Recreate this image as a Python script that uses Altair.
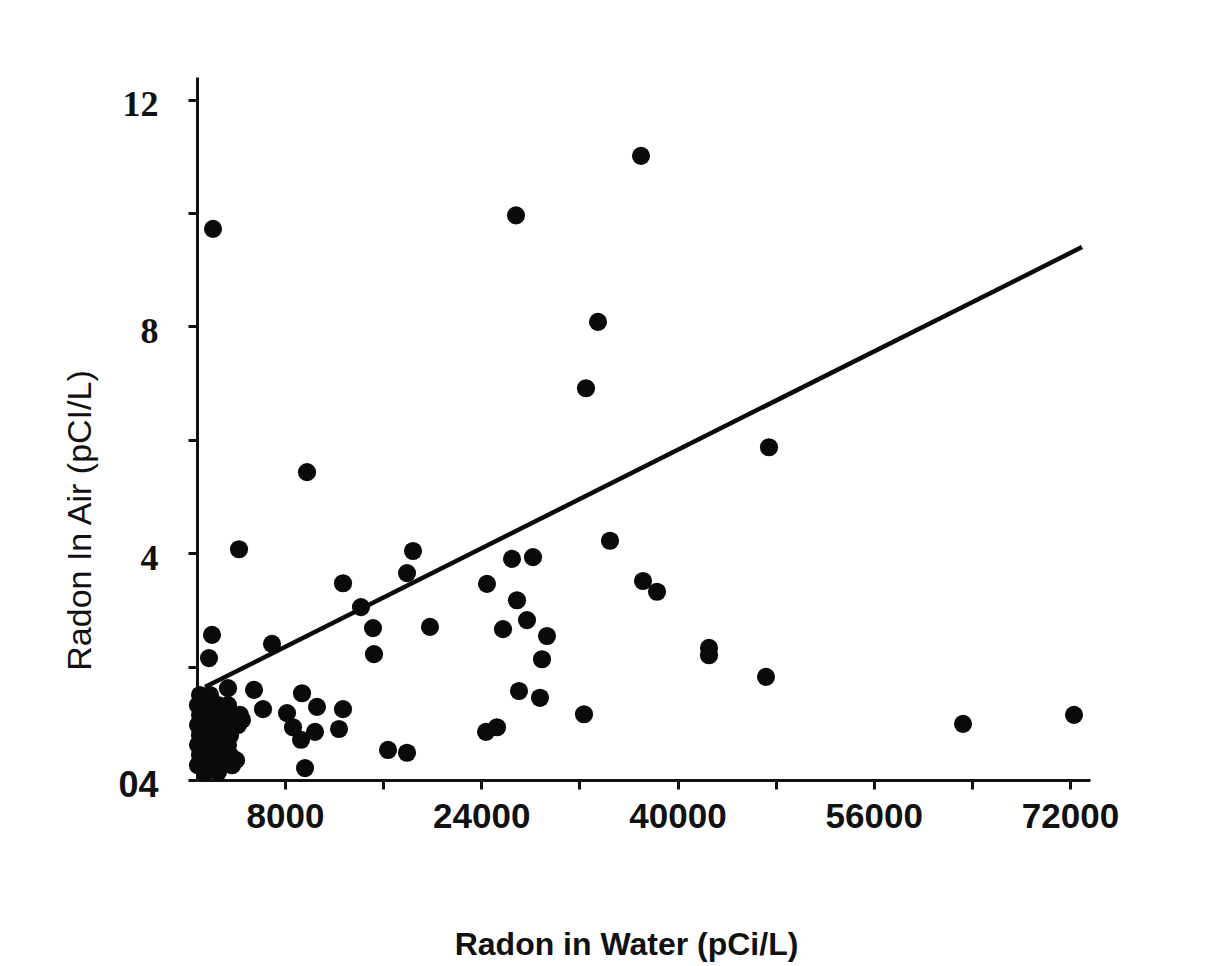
import altair as alt
import pandas as pd

# Radon in water (pCi/L) and radon in air (pCi/L)
water = [
    2128, 37023, 26832, 33517, 32539, 47459, 9792, 4248, 18434, 34495,
    12727, 14194, 15173, 15254, 17945, 19820, 24467, 26505, 28218, 26913,
    27728, 25772, 29359, 28951, 27076, 28788, 37186, 38328, 42567, 42567,
    47214, 32375, 63276, 72325, 24386, 25282, 16396, 17945, 9629, 6938,
    5471, 6204, 9384, 10607, 8161, 8650, 10444, 9303, 12727, 12401,
    2046, 1802, 3351, 4492, 4003,
    # dense cluster near the origin
    1068, 1883,
    905, 1720, 2536, 3351,
    1068, 1883, 2699, 3514, 4329,
    905, 1720, 2536, 3351, 4166,
    1068, 1883, 2699, 3514,
    905, 1720, 2536, 3351,
    1068, 1883, 2699, 3514,
    905, 1720, 2699, 3677,
    1476, 2536,
]
air = [
    9.72, 11.01, 9.96, 8.08, 6.91, 5.87, 5.43, 4.07, 4.04, 4.22,
    3.47, 3.05, 2.68, 2.22, 3.65, 2.70, 3.46, 3.90, 3.93, 3.17,
    2.82, 2.66, 2.54, 2.13, 1.57, 1.45, 3.51, 3.32, 2.33, 2.20,
    1.82, 1.16, 0.99, 1.15, 0.85, 0.93, 0.53, 0.48, 0.21, 2.40,
    1.59, 1.25, 1.53, 1.29, 1.18, 0.93, 0.85, 0.71, 1.25, 0.90,
    2.56, 2.15, 1.62, 1.06, 0.35,
    1.50, 1.50,
    1.32, 1.32, 1.32, 1.32,
    1.15, 1.15, 1.15, 1.15, 1.15,
    0.97, 0.97, 0.97, 0.97, 0.97,
    0.79, 0.79, 0.79, 0.79,
    0.62, 0.62, 0.62, 0.62,
    0.44, 0.44, 0.44, 0.44,
    0.26, 0.26, 0.26, 0.26,
    0.14, 0.14,
]

# Fitted regression line end points
fit_water = [1476, 72978]
fit_air = [1.64, 9.40]

x_ticks = [8000, 16000, 24000, 32000, 40000, 48000, 56000, 64000, 72000]
y_ticks = [0, 2, 4, 6, 8, 10, 12]

pts = pd.DataFrame({"water": water, "air": air})
fit = pd.DataFrame({"water": fit_water, "air": fit_air})

xscale = alt.Scale(domain=[823, 73630], nice=False, zero=False)
yscale = alt.Scale(domain=[0, 12.4], nice=False, zero=False)

x_axis = alt.Axis(
    values=x_ticks,
    labelExpr="datum.value % 16000 == 8000 ? datum.label : ''",
    format="d",
    grid=False,
    domainColor="#111",
    domainWidth=3,
    tickColor="#111",
    tickWidth=3,
    tickSize=9,
    labelFont="Liberation Sans",
    labelFontSize=35,
    labelFontWeight="bold",
    labelColor="#111",
    labelPadding=10,
    labelFlush=False,
    labelOverlap=False,
    title="Radon in Water (pCi/L)",
    titleFont="Liberation Sans",
    titleFontSize=32,
    titleFontWeight="bold",
    titleColor="#111",
    titleX=429,
    titleY=164,
    titleBaseline="middle",
    titleAlign="center",
)

y_axis = alt.Axis(
    values=y_ticks,
    format="d",
    labelExpr="datum.value % 4 == 0 ? (datum.value == 0 ? '04' : datum.label) : ''",
    grid=False,
    domainColor="#111",
    domainWidth=3,
    tickColor="#111",
    tickWidth=3,
    tickSize=9,
    labelFont=alt.condition("datum.value == 0", alt.value("Liberation Sans"), alt.value("Liberation Serif")),
    labelFontSize=36,
    labelFontWeight="bold",
    labelColor="#111",
    labelPadding=30,
    labelOffset=5,
    labelBaseline="middle",
    labelOverlap=False,
    title="Radon In Air (pCI/L)",
    titleFont="Liberation Sans",
    titleFontSize=34,
    titleFontWeight="normal",
    titleColor="#111",
    titleAngle=270,
    titleX=-117,
    titleY=443,
    titleBaseline="middle",
    titleAlign="center",
)

points = alt.Chart(pts).mark_circle(size=330, color="#0a0a0a", opacity=1).encode(
    x=alt.X("water:Q", scale=xscale, axis=x_axis),
    y=alt.Y("air:Q", scale=yscale, axis=y_axis),
)

line = alt.Chart(fit).mark_line(color="#0a0a0a", strokeWidth=4.5).encode(
    x=alt.X("water:Q", scale=xscale),
    y=alt.Y("air:Q", scale=yscale),
)

chart = (
    alt.layer(points, line)
    .properties(
        width=893,
        height=703,
        padding={"left": 189, "top": 69, "right": 100, "bottom": 183},
        autosize=alt.AutoSizeParams(type="none"),
        background="white",
    )
    .configure_view(stroke=None)
)

chart.save("out.html", embed_options={"renderer": "svg", "actions": False})
